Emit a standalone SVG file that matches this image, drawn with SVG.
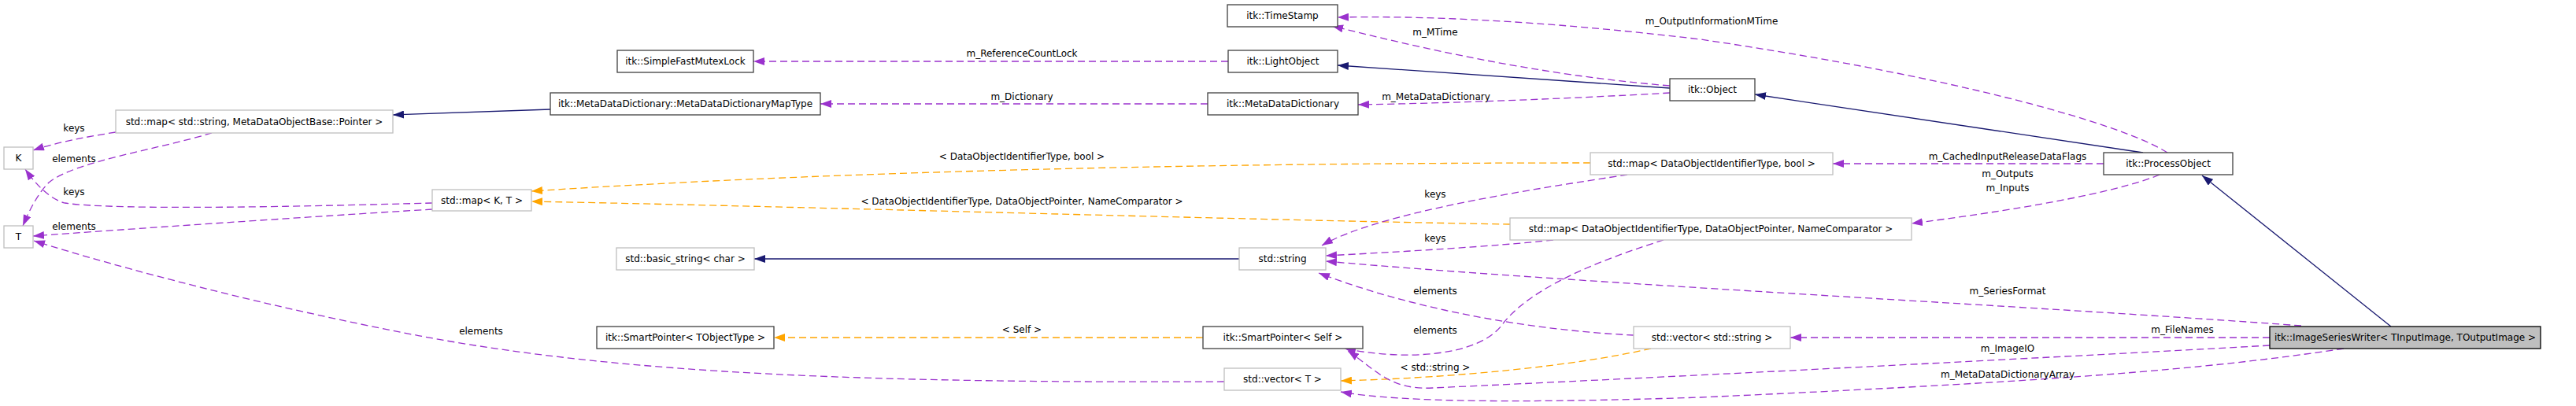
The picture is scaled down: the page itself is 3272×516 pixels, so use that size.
<svg xmlns="http://www.w3.org/2000/svg" width="3272" height="516" viewBox="0 0 3272 516">
<style>
text{font-family:"DejaVu Sans","Liberation Sans",sans-serif;font-size:12px;fill:#000;text-anchor:middle}
.doc{fill:#fff;stroke:#404040;stroke-width:1.3}
.ext{fill:#fff;stroke:#bfbfbf;stroke-width:1.3}
.main{fill:#bfbfbf;stroke:#000;stroke-width:1.3}
.e{fill:none;stroke-width:1.3}
.p{stroke:#9a32cd;stroke-dasharray:9,5;marker-end:url(#ap)}
.o{stroke:#ffa500;stroke-dasharray:9,5;marker-end:url(#ao)}
.b{stroke:#191970;marker-end:url(#ab)}
</style>
<defs>
<marker id="ap" viewBox="0 0 14 10" refX="14" refY="5" markerWidth="14" markerHeight="10" markerUnits="userSpaceOnUse" orient="auto"><path d="M0,0L14,5L0,10z" fill="#9a32cd"/></marker>
<marker id="ao" viewBox="0 0 14 10" refX="14" refY="5" markerWidth="14" markerHeight="10" markerUnits="userSpaceOnUse" orient="auto"><path d="M0,0L14,5L0,10z" fill="#ffa500"/></marker>
<marker id="ab" viewBox="0 0 14 10" refX="14" refY="5" markerWidth="14" markerHeight="10" markerUnits="userSpaceOnUse" orient="auto"><path d="M0,0L14,5L0,10z" fill="#191970"/></marker>
</defs>
<rect width="3272" height="516" fill="#fff"/>
<g id="connectors">
<path class="e b" d="M699,139 L499,146"/>
<path class="e p" d="M147,168 C110,174 75,180 42,191"/>
<path class="e p" d="M269,169 C200,190 95,205 62,232 C48,246 38,266 29,287"/>
<path class="e p" d="M549,258 C400,262 150,268 82,258 C65,253 48,238 32,215"/>
<path class="e p" d="M549,266 C400,275 150,292 42,300"/>
<path class="e p" d="M1555,485 C1100,487 800,475 550,430 C350,393 150,340 43,306"/>
<path class="e p" d="M1560,78 L957,78"/>
<path class="e p" d="M1534,132 L1042,132"/>
<path class="e b" d="M2121,112 L1699,83"/>
<path class="e p" d="M2121,109 C1950,95 1800,60 1692,33"/>
<path class="e p" d="M2121,118 C2000,125 1850,131 1725,133"/>
<path class="e b" d="M2722,194 L2229,120"/>
<path class="e p" d="M2753,194 C2700,160 2500,100 2160,50 C1950,25 1800,20 1699,22"/>
<path class="e p" d="M2672,208 L2328,208"/>
<path class="e p" d="M2743,222 C2700,240 2600,262 2428,284"/>
<path class="e o" d="M2020,207 C1600,207 1100,215 675,243"/>
<path class="e o" d="M1918,285 C1600,280 1000,262 675,256"/>
<path class="e p" d="M2067,222 C1950,240 1750,270 1679,312"/>
<path class="e p" d="M1973,305 C1900,313 1780,320 1684,325"/>
<path class="e p" d="M2113,305 C2050,325 1950,360 1910,410 C1880,455 1780,458 1708,443"/>
<path class="e p" d="M2075,426 C1950,420 1800,395 1675,347"/>
<path class="e o" d="M2097,443 C2000,465 1850,480 1703,484"/>
<path class="e p" d="M2923,414 C2600,390 2000,360 1684,332"/>
<path class="e p" d="M2883,429 L2274,429"/>
<path class="e p" d="M2883,439 C2500,460 2100,480 1820,493 C1765,496 1748,470 1712,446"/>
<path class="e p" d="M2977,443 C2800,470 2600,485 2160,505 C1950,512 1780,512 1703,498"/>
<path class="e b" d="M3037,415 L2797,223"/>
<path class="e b" d="M1574,329 L958,329"/>
<path class="e o" d="M1528,429 L983,429"/>
</g>
<g id="edge-labels">
<text x="94" y="167">keys</text>
<text x="94" y="206">elements</text>
<text x="94" y="248">keys</text>
<text x="94" y="292">elements</text>
<text x="611" y="425">elements</text>
<text x="1298" y="72">m_ReferenceCountLock</text>
<text x="1298" y="127">m_Dictionary</text>
<text x="1298" y="203">&lt; DataObjectIdentifierType, bool &gt;</text>
<text x="1298" y="260">&lt; DataObjectIdentifierType, DataObjectPointer, NameComparator &gt;</text>
<text x="1298" y="423">&lt; Self &gt;</text>
<text x="1823" y="45">m_MTime</text>
<text x="1824" y="127">m_MetaDataDictionary</text>
<text x="2174" y="31">m_OutputInformationMTime</text>
<text x="1823" y="251">keys</text>
<text x="1823" y="307">keys</text>
<text x="1823" y="374">elements</text>
<text x="1823" y="424">elements</text>
<text x="1823" y="471">&lt; std::string &gt;</text>
<text x="2550" y="203">m_CachedInputReleaseDataFlags</text>
<text x="2550" y="225">m_Outputs</text>
<text x="2550" y="243">m_Inputs</text>
<text x="2550" y="374">m_SeriesFormat</text>
<text x="2550" y="447">m_ImageIO</text>
<text x="2550" y="480">m_MetaDataDictionaryArray</text>
<text x="2772" y="423">m_FileNames</text>
</g>
<g id="n_writer"><rect class="main" x="2883" y="415" width="344" height="28"/><text x="3055" y="433">itk::ImageSeriesWriter&lt; TInputImage, TOutputImage &gt;</text></g>
<g id="n_processobject"><rect class="doc" x="2672" y="194" width="164" height="28"/><text x="2754" y="212">itk::ProcessObject</text></g>
<g id="n_object"><rect class="doc" x="2121" y="100" width="108" height="28"/><text x="2175" y="118">itk::Object</text></g>
<g id="n_lightobject"><rect class="doc" x="1560" y="64" width="139" height="28"/><text x="1629.5" y="82">itk::LightObject</text></g>
<g id="n_timestamp"><rect class="doc" x="1559" y="6" width="140" height="28"/><text x="1629" y="24">itk::TimeStamp</text></g>
<g id="n_metadatadictionary"><rect class="doc" x="1534" y="118" width="191" height="28"/><text x="1629.5" y="136">itk::MetaDataDictionary</text></g>
<g id="n_mutex"><rect class="doc" x="784" y="64" width="173" height="28"/><text x="870.5" y="82">itk::SimpleFastMutexLock</text></g>
<g id="n_maptype"><rect class="doc" x="699" y="118" width="343" height="28"/><text x="870.5" y="136">itk::MetaDataDictionary::MetaDataDictionaryMapType</text></g>
<g id="n_map_string"><rect class="ext" x="147" y="140" width="352" height="29"/><text x="323" y="158.5">std::map&lt; std::string, MetaDataObjectBase::Pointer &gt;</text></g>
<g id="n_K"><rect class="ext" x="5" y="187" width="37" height="28"/><text x="23.5" y="205">K</text></g>
<g id="n_T"><rect class="ext" x="5" y="287" width="37" height="28"/><text x="23.5" y="305">T</text></g>
<g id="n_map_KT"><rect class="ext" x="549" y="241" width="126" height="27"/><text x="612" y="258.5">std::map&lt; K, T &gt;</text></g>
<g id="n_basic_string"><rect class="ext" x="783" y="315" width="175" height="28"/><text x="870.5" y="333">std::basic_string&lt; char &gt;</text></g>
<g id="n_sp_tobject"><rect class="doc" x="758" y="415" width="225" height="28"/><text x="870.5" y="433">itk::SmartPointer&lt; TObjectType &gt;</text></g>
<g id="n_string"><rect class="ext" x="1574" y="315" width="110" height="28"/><text x="1629" y="333">std::string</text></g>
<g id="n_sp_self"><rect class="doc" x="1528" y="415" width="203" height="28"/><text x="1629.5" y="433">itk::SmartPointer&lt; Self &gt;</text></g>
<g id="n_vector_T"><rect class="ext" x="1555" y="468" width="148" height="28"/><text x="1629" y="486">std::vector&lt; T &gt;</text></g>
<g id="n_map_bool"><rect class="ext" x="2020" y="194" width="308" height="28"/><text x="2174" y="212">std::map&lt; DataObjectIdentifierType, bool &gt;</text></g>
<g id="n_map_dop"><rect class="ext" x="1918" y="277" width="510" height="28"/><text x="2173" y="295">std::map&lt; DataObjectIdentifierType, DataObjectPointer, NameComparator &gt;</text></g>
<g id="n_vector_string"><rect class="ext" x="2075" y="415" width="199" height="28"/><text x="2174.5" y="433">std::vector&lt; std::string &gt;</text></g>
</svg>
